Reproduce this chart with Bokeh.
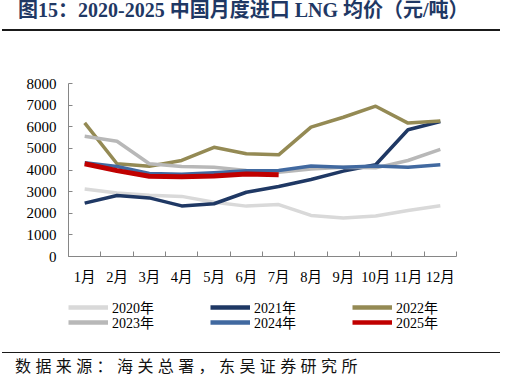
from bokeh.plotting import figure
from bokeh.models import Range1d, FixedTicker, Legend, LegendItem, Div
from bokeh.layouts import column
from bokeh.embed import file_html
from bokeh.resources import INLINE

months = ["1月", "2月", "3月", "4月", "5月", "6月", "7月", "8月", "9月", "10月", "11月", "12月"]
x_idx = list(range(1, 13))
y_ticks = [0, 1000, 2000, 3000, 4000, 5000, 6000, 7000, 8000]

y2020 = [3120, 2940, 2830, 2780, 2510, 2330, 2400, 1900, 1780, 1870, 2130, 2350]
y2021 = [2470, 2820, 2710, 2340, 2440, 2970, 3240, 3560, 3950, 4240, 5860, 6240]
y2022 = [6180, 4290, 4170, 4440, 5050, 4750, 4700, 5980, 6440, 6950, 6170, 6270]
y2023 = [5560, 5330, 4290, 4160, 4130, 3980, 3900, 4050, 4130, 4100, 4440, 4950]
y2024 = [4340, 4160, 3840, 3800, 3870, 3970, 3980, 4180, 4130, 4190, 4130, 4240]
y2025 = [4290, 3970, 3710, 3690, 3720, 3820, 3780]

series_names = ["2020年", "2021年", "2022年", "2023年", "2024年", "2025年"]
series_vals = [y2020, y2021, y2022, y2023, y2024, y2025]
colors = ["#d9d9d9", "#1f3864", "#948a54", "#b8b8b8", "#4169a0", "#c00000"]
widths = [3.5, 3.5, 3.5, 3.5, 3.5, 5]

SERIF = "'Liberation Serif', 'Noto Sans CJK SC'"

# ---- main chart ----
p = figure(width=493, height=254, output_backend="svg", toolbar_location=None,
           x_range=Range1d(0.5, 12.5), y_range=Range1d(0, 8000),
           min_border_left=68, min_border_right=37, min_border_top=45, min_border_bottom=36)
p.outline_line_color = None
p.xgrid.visible = False
p.ygrid.visible = False
p.background_fill_color = "white"
p.border_fill_color = "white"

for name, vals, c, w in zip(series_names, series_vals, colors, widths):
    p.line(x_idx[:len(vals)], vals, line_color=c, line_width=w, line_join="round")

xa = p.xaxis[0]
xa.ticker = FixedTicker(ticks=x_idx, minor_ticks=[i + 0.5 for i in range(0, 13)])
xa.major_label_overrides = {i: m for i, m in zip(x_idx, months)}
xa.major_tick_in = 0
xa.major_tick_out = 0
xa.minor_tick_in = 5
xa.minor_tick_out = 0
xa.minor_tick_line_color = "#868686"
xa.axis_line_color = "#868686"
xa.major_label_text_font = SERIF
xa.major_label_text_font_size = "14.5px"
xa.major_label_text_color = "black"
xa.major_label_standoff = 12

ya = p.yaxis[0]
ya.ticker = FixedTicker(ticks=y_ticks)
ya.major_tick_in = 4
ya.major_tick_out = 0
ya.major_tick_line_color = "#868686"
ya.minor_tick_line_color = None
ya.axis_line_color = "#868686"
ya.major_label_text_font = SERIF
ya.major_label_text_font_size = "15px"
ya.major_label_text_color = "black"
ya.major_label_standoff = 12

# ---- legend strip (same series, drawn outside its visible range) ----
lf = figure(width=493, height=50, output_backend="svg", toolbar_location=None,
            x_range=Range1d(100, 101), y_range=Range1d(0, 8000),
            x_axis_type=None, y_axis_type=None,
            min_border_left=63, min_border_right=0, min_border_top=5, min_border_bottom=10)
lf.outline_line_color = None
lf.xgrid.visible = False
lf.ygrid.visible = False
lf.background_fill_color = "white"
lf.border_fill_color = "white"
leg_renderers = []
for name, vals, c, w in zip(series_names, series_vals, colors, widths):
    leg_renderers.append(lf.line(x_idx[:len(vals)], vals, line_color=c, line_width=4.5, line_join="round"))

items = [LegendItem(label=n, renderers=[r]) for n, r in zip(series_names, leg_renderers)]
leg_kw = dict(orientation="horizontal",
              glyph_width=40, glyph_height=16, label_width=98, label_height=16,
              spacing=0, padding=0, margin=0, label_standoff=4,
              border_line_color=None, background_fill_alpha=0,
              label_text_font=SERIF, label_text_font_size="14px", label_text_color="black")
lf.add_layout(Legend(items=items[:3], location="top_left", **leg_kw))
lf.add_layout(Legend(items=items[3:], location="bottom_left", **leg_kw))

title_html = (
    '<div style="position:relative;width:493px;height:28px;">'
    '<div style="position:absolute;left:-3px;top:24px;width:498px;height:0;border-top:2px solid #1a1a1a;"></div>'
    '<span style="position:absolute;left:13px;top:-5px;white-space:nowrap;'
    "font-family:'Liberation Serif','Noto Sans CJK SC';font-weight:bold;font-size:20px;line-height:20px;"
    'color:#1f3864;">图15：2020-2025 中国月度进口 LNG 均价（元/吨）</span></div>'
)
title_div = Div(text=title_html, width=493, height=28)

footer_html = (
    '<div style="position:relative;width:493px;height:33px;">'
    '<div style="position:absolute;left:-3px;top:5px;width:498px;height:0;border-top:1.5px solid #1a1a1a;"></div>'
    '<span style="position:absolute;left:10px;top:11px;white-space:nowrap;'
    "font-family:'Noto Sans CJK SC';font-size:16px;line-height:14px;letter-spacing:4.4px;"
    'color:#111111;">数据来源：海关总署，东吴证券研究所</span></div>'
)
footer_div = Div(text=footer_html, width=493, height=33)

layout = column(title_div, p, lf, footer_div, spacing=0)

open("out.html", "w").write(file_html(layout, INLINE))
